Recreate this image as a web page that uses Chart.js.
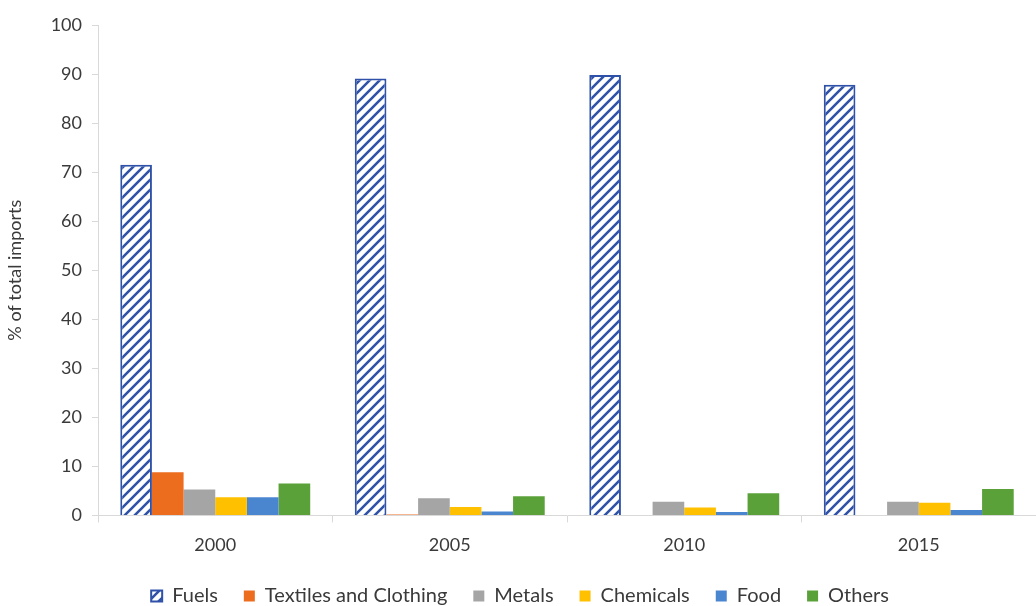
<!DOCTYPE html>
<html>
<head>
<meta charset="utf-8">
<script src="https://cdn.jsdelivr.net/npm/chart.js@4"></script>
<style>
  html, body { margin: 0; padding: 0; background: #fff; }
  #wrap { width: 1036px; height: 606px; }
</style>
</head>
<body>
<div id="wrap"><canvas id="imports"></canvas></div>
<script>
const years = ["2000", "2005", "2010", "2015"];
const fuels = [71.5, 89.1, 89.8, 87.8];
const textiles = [8.8, 0.2, 0, 0];
const metals = [5.3, 3.5, 2.8, 2.8];
const chemicals = [3.7, 1.7, 1.6, 2.6];
const food = [3.7, 0.8, 0.7, 1.1];
const others = [6.5, 3.9, 4.5, 5.4];
const yTicks = [0, 10, 20, 30, 40, 50, 60, 70, 80, 90, 100];

// diagonal hatch for the fuels bars
function makeHatch() {
  const c = document.createElement("canvas");
  c.width = 10; c.height = 10;
  const ctx = c.getContext("2d");
  ctx.fillStyle = "#ffffff";
  ctx.fillRect(0, 0, 10, 10);
  ctx.strokeStyle = "#2f52a8";
  ctx.lineWidth = 2.6;
  ctx.beginPath();
  ctx.moveTo(-2, 12); ctx.lineTo(12, -2);
  ctx.moveTo(-7, 7); ctx.lineTo(7, -7);
  ctx.moveTo(3, 17); ctx.lineTo(17, 3);
  ctx.stroke();
  return ctx.createPattern(c, "repeat");
}

const greyLine = "#d9d9d9";
const txt = "#3a3a3a";

new Chart("imports", {
  type: "bar",
  data: {
    labels: years,
    datasets: [
      { label: "Fuels", data: fuels, backgroundColor: makeHatch(), borderColor: "#2f52a8", borderWidth: 2 },
      { label: "Textiles and Clothing", data: textiles, backgroundColor: "#ed6d1f" },
      { label: "Metals", data: metals, backgroundColor: "#a5a5a5" },
      { label: "Chemicals", data: chemicals, backgroundColor: "#ffc000" },
      { label: "Food", data: food, backgroundColor: "#4a86d0" },
      { label: "Others", data: others, backgroundColor: "#5ba13a" }
    ]
  },
  options: {
    responsive: true,
    maintainAspectRatio: false,
    animation: false,
    layout: { padding: { top: 25, right: 0, bottom: -10, left: 4 } },
    datasets: { bar: { categoryPercentage: 0.81, barPercentage: 1.0 } },
    plugins: {
      tooltip: { enabled: false },
      legend: {
        position: "bottom",
        labels: {
          font: { family: "Lato", size: 20 },
          color: txt,
          boxWidth: 11,
          boxHeight: 11,
          padding: 26
        }
      }
    },
    scales: {
      x: {
        afterFit: (scale) => { scale.height -= 8; },
        grid: { drawOnChartArea: false, color: greyLine, tickLength: 7, offset: true },
        border: { color: greyLine },
        ticks: { font: { family: "Lato", size: 18 }, color: txt, padding: 12 }
      },
      y: {
        min: 0,
        max: 100,
        afterBuildTicks: (scale) => { scale.ticks = yTicks.map(v => ({ value: v })); },
        afterFit: (scale) => { scale.width = 94; },
        grid: { drawOnChartArea: false, color: greyLine, tickLength: 6 },
        border: { color: greyLine },
        ticks: { font: { family: "Lato", size: 18 }, color: txt, padding: 10 },
        title: {
          display: true,
          text: "% of total imports",
          font: { family: "Lato", size: 18 },
          color: txt,
          padding: { top: 0, bottom: 2 }
        }
      }
    }
  }
});
</script>
</body>
</html>
